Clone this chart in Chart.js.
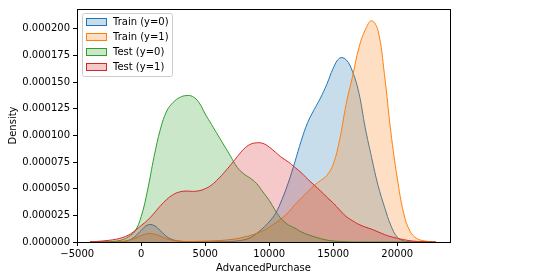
<!DOCTYPE html>
<html>
<head>
<meta charset="utf-8">
<script src="https://cdn.jsdelivr.net/npm/chart.js@4.4.0/dist/chart.umd.min.js"></script>
<style>
    html, body { margin: 0; padding: 0; background: #fff; }
    #wrap { width: 557px; height: 280px; }
</style>
</head>
<body>
<div id="wrap"><canvas id="kde-chart" width="557" height="280"></canvas></div>
<script>
// KDE of AdvancedPurchase, densities below are in units of 1e-6
const gridX = [
    -4000, -3500, -3000, -2500, -2000, -1500, -1000, -500, 0, 500,
    1000, 1500, 2000, 2500, 3000, 3500, 4000, 4500, 5000, 5500,
    6000, 6500, 7000, 7500, 8000, 8500, 9000, 9500, 10000, 10500,
    11000, 11500, 12000, 12500, 13000, 13500, 14000, 14500, 15000, 15500,
    16000, 16500, 17000, 17500, 18000, 18500, 19000, 19500, 20000, 20500,
    21000, 21500, 22000, 22500, 23000
];

const trainNeg = [
    0, 0, 0, 0, 0, 0.3, 1.5, 5, 11, 16,
    15.5, 10.5, 5, 2, 0.7, 0.3, 0.2, 0.2, 0.2, 0.2,
    0.2, 0.3, 0.5, 1, 2, 4, 8, 13, 19, 27,
    40, 56, 75, 95, 112, 124, 135, 148, 163, 172.5,
    171, 160, 140, 107, 79, 53, 33, 15.5, 4.5, 1,
    0.2, 0, 0, 0, 0
];

const trainPos = [
    0, 0, 0, 0, 0.1, 0.5, 1.5, 3.5, 6, 7.8,
    7.5, 5.5, 3, 1.5, 0.8, 0.5, 0.5, 0.6, 0.8, 1,
    1.3, 1.7, 2.3, 3.2, 4.5, 6, 8, 10.5, 14, 18,
    22.5, 28, 35, 41, 47, 53, 57.5, 62.5, 73, 96,
    129, 155, 182, 199, 207.5, 198, 157, 103, 60, 27,
    10, 3.5, 1.3, 0.4, 0
];

const testNeg = [
    0, 0, 0.1, 0.3, 0.8, 2, 5, 10, 24, 49,
    80, 106, 123, 131, 135.5, 137.3, 136.5, 131, 120, 110,
    100, 90, 80, 70, 64, 60, 55, 47, 39, 29,
    21, 16, 13, 9.5, 7, 5, 3.2, 1.8, 1, 0.5,
    0.2, 0, 0, 0, 0, 0, 0, 0, 0, 0,
    0, 0, 0, 0, 0
];

const testPos = [
    0.2, 0.5, 1, 1.6, 2.5, 4, 6.5, 10.5, 15.5, 20.5,
    27, 34, 40, 44.5, 47, 47.8, 47.5, 48, 50, 53.5,
    59, 65.5, 72.5, 80, 87, 91.5, 93, 92.5, 89, 84,
    79, 75, 70, 65, 59, 53.5, 48, 42, 36.5, 30,
    24, 20, 16.5, 14, 12, 9.5, 7, 5, 3.5, 2.2,
    1.2, 0.6, 0.3, 0.1, 0
];

const seriesLabels = ['Train (y=0)', 'Train (y=1)', 'Test (y=0)', 'Test (y=1)'];
const seriesColors = ['31, 119, 180', '255, 127, 14', '44, 160, 44', '214, 39, 40'];

const xTicks = [-5000, 0, 5000, 10000, 15000, 20000];
const yTicks = [0, 0.000025, 0.00005, 0.000075, 0.0001, 0.000125, 0.00015, 0.000175, 0.0002];

const FONT = { family: 'DejaVu Sans', size: 10 };

document.addEventListener('DOMContentLoaded', () => {
    initKdeChart();
});

function toPoints(values) {
    return gridX.map((x, i) => ({ x: x, y: values[i] * 1e-6 }));
}

// frame on all four sides, like matplotlib spines
const framePlugin = {
    id: 'frame',
    afterDatasetsDraw(chart) {
        const { ctx, chartArea } = chart;
        ctx.save();
        ctx.strokeStyle = '#000';
        ctx.lineWidth = 1;
        ctx.strokeRect(chartArea.left + 0.5, chartArea.top + 0.5,
            chartArea.right - chartArea.left, chartArea.bottom - chartArea.top);
        ctx.restore();
    }
};

// legend box in the upper left corner of the plot
const boxLegendPlugin = {
    id: 'boxLegend',
    afterDraw(chart) {
        const { ctx, chartArea } = chart;
        const left = chartArea.left + 5;
        const top = chartArea.top + 4;
        const w = 90, h = 63;
        ctx.save();
        ctx.beginPath();
        ctx.roundRect(left + 0.5, top + 0.5, w, h, 2);
        ctx.fillStyle = 'rgba(255,255,255,0.8)';
        ctx.fill();
        ctx.strokeStyle = '#cccccc';
        ctx.lineWidth = 1;
        ctx.stroke();

        ctx.font = '10px "DejaVu Sans"';
        ctx.textBaseline = 'middle';
        seriesLabels.forEach((label, i) => {
            const cy = top + 9 + i * 15;
            ctx.fillStyle = `rgba(${seriesColors[i]}, 0.25)`;
            ctx.fillRect(left + 4, cy - 4, 20, 8);
            ctx.strokeStyle = `rgb(${seriesColors[i]})`;
            ctx.strokeRect(left + 4.5, cy - 3.5, 20, 7);
            ctx.fillStyle = '#000';
            ctx.fillText(label, left + 31, cy + 0.5);
        });
        ctx.restore();
    }
};

function initKdeChart() {
    const ctx = document.getElementById('kde-chart').getContext('2d');
    const allSeries = [trainNeg, trainPos, testNeg, testPos];
    const drawOrder = [3, 2, 1, 0];

    new Chart(ctx, {
        type: 'line',
        data: {
            datasets: allSeries.map((values, i) => ({
                label: seriesLabels[i],
                data: toPoints(values),
                borderColor: `rgb(${seriesColors[i]})`,
                backgroundColor: `rgba(${seriesColors[i]}, 0.25)`,
                borderWidth: 1,
                fill: 'origin',
                pointRadius: 0,
                tension: 0.4,
                order: drawOrder[i]
            }))
        },
        options: {
            responsive: false,
            animation: false,
            events: [],
            layout: {
                padding: { top: 7, right: 107, left: 0, bottom: 0 }
            },
            plugins: {
                legend: { display: false },
                tooltip: { enabled: false }
            },
            scales: {
                x: {
                    type: 'linear',
                    min: -5020,
                    max: 24120,
                    afterBuildTicks: scale => {
                        scale.ticks = xTicks.map(v => ({ value: v }));
                    },
                    afterFit: scale => { scale.height = 38; },
                    ticks: {
                        color: '#000',
                        font: FONT,
                        padding: 2,
                        maxRotation: 0,
                        callback: v => (v < 0 ? '\u2212' + Math.abs(v) : String(v))
                    },
                    grid: { drawOnChartArea: false, drawTicks: true, tickLength: 4, color: '#000' },
                    border: { display: true, color: '#000' },
                    title: {
                        display: true,
                        text: 'AdvancedPurchase',
                        color: '#000',
                        font: FONT,
                        padding: { top: 0, bottom: 6 }
                    }
                },
                y: {
                    type: 'linear',
                    min: 0,
                    max: 0.0002185,
                    afterBuildTicks: scale => {
                        scale.ticks = yTicks.map(v => ({ value: v }));
                    },
                    afterFit: scale => { scale.width = 77; },
                    ticks: {
                        color: '#000',
                        font: FONT,
                        padding: 3,
                        callback: v => v.toFixed(6)
                    },
                    grid: { drawOnChartArea: false, drawTicks: true, tickLength: 4, color: '#000' },
                    border: { display: true, color: '#000' },
                    title: {
                        display: true,
                        text: 'Density',
                        color: '#000',
                        font: FONT,
                        padding: { top: 7, bottom: 0 }
                    }
                }
            }
        },
        plugins: [framePlugin, boxLegendPlugin]
    });
}
</script>
</body>
</html>
